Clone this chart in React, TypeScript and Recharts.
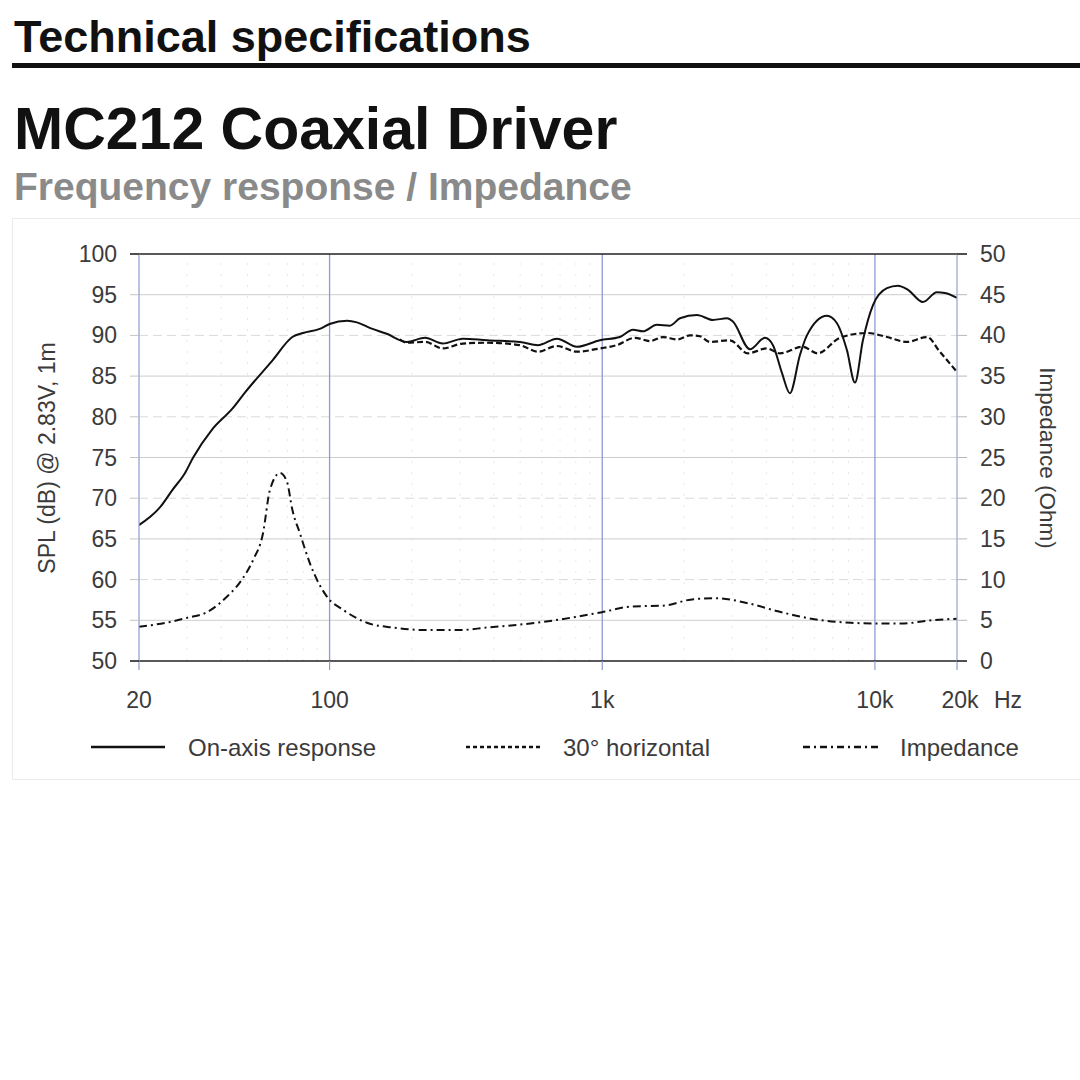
import React from 'react';
import { LineChart, Line, XAxis, YAxis, ReferenceLine } from 'recharts';

// On-axis response (Hz, dB SPL)
const onAxisFreq = [
  20, 23.9, 26.5, 29.5, 31.6, 37, 44, 49, 62, 73, 80, 92, 100, 116, 126, 141, 162, 192, 224, 260, 308,
  378, 499, 581, 682, 807, 980, 1160, 1296, 1410, 1586, 1770, 1928, 2224, 2547, 2866, 3014, 3480,
  3950, 4227, 4560, 4878, 5310, 5632, 6668, 7254, 7893, 8447, 9036, 9832, 11070, 12140, 13213,
  14997, 16878, 18054, 20000,
];
const onAxisSpl = [
  66.7, 68.9, 71.0, 73.1, 75.0, 78.4, 81.0, 83.0, 87.0, 89.8, 90.3, 90.8, 91.4, 91.8, 91.6, 90.9, 90.2,
  89.2, 89.7, 89.0, 89.6, 89.4, 89.2, 88.8, 89.6, 88.6, 89.4, 89.8, 90.7, 90.5, 91.3, 91.2, 92.1,
  92.5, 91.9, 92.1, 91.7, 88.3, 89.7, 88.8, 85.4, 82.9, 87.6, 90.0, 92.4, 91.5, 88.2, 84.2, 89.4,
  93.7, 95.8, 96.1, 95.6, 94.1, 95.3, 95.2, 94.6,
];

// 30° horizontal (Hz, dB SPL)
const horizFreq = [
  181, 192, 224, 260, 308, 378, 499, 581, 682, 807, 980, 1130, 1318, 1496, 1670, 1880, 2096, 2280,
  2483, 2938, 3420, 4017, 4483, 5432, 6166, 7442, 9355, 11070, 13100, 15510, 17300, 20000,
];
const horizSpl = [
  89.5, 89.1, 89.2, 88.4, 89.0, 89.1, 88.8, 88.0, 88.7, 88.0, 88.4, 88.8, 89.7, 89.3, 89.8, 89.5,
  90.0, 89.9, 89.2, 89.4, 87.8, 88.4, 87.8, 88.6, 87.8, 89.7, 90.3, 89.8, 89.2, 89.8, 88.0, 85.5,
];

// Impedance (Hz, Ohm)
const impFreq = [
  20, 26, 30, 35.5, 42, 47.7, 52.4, 57, 60.4, 65.8, 69.8, 73, 77.8, 84.7, 97.8, 112, 137, 171, 228,
  301, 374, 576, 794, 998, 1285, 1670, 2168, 2636, 3420, 4408, 6076, 8166, 10252, 12452, 16180, 20000,
];
const impOhm = [
  4.2, 4.8, 5.3, 6.0, 7.9, 10.0, 12.4, 15.7, 21.0, 23.1, 22.0, 18.6, 15.7, 12.0, 7.9, 6.3, 4.7, 4.1,
  3.8, 3.8, 4.1, 4.7, 5.4, 6.0, 6.7, 6.8, 7.6, 7.7, 7.1, 6.1, 5.1, 4.7, 4.6, 4.6, 5.0, 5.2,
];

const xTicks = [20, 100, 1000, 10000, 20000];
const xTickLabels = ['20', '100', '1k', '10k', '20k'];
const splTicks = [50, 55, 60, 65, 70, 75, 80, 85, 90, 95, 100];
const ohmTicks = [0, 5, 10, 15, 20, 25, 30, 35, 40, 45, 50];
const majorFreqs = [100, 1000, 10000];
const minorFreqs = [30, 40, 50, 60, 70, 80, 90, 200, 300, 400, 500, 600, 700, 800, 900, 2000, 3000, 4000, 5000, 6000, 7000, 8000, 9000];
const gridSpl = [55, 60, 65, 70, 75, 80, 85, 90, 95];

const toPoints = (fs: number[], vs: number[]) => fs.map((f, i) => ({ f, v: vs[i] }));
const onAxisData = toPoints(onAxisFreq, onAxisSpl);
const horizData = toPoints(horizFreq, horizSpl);
const impData = toPoints(impFreq, impOhm);

const FONT = '"Liberation Sans", Arial, Helvetica, sans-serif';
const TEXT = '#3b3b3b';
const BLUE = '#8e9ad3';
const DARK = '#222';

const LeftTick = (props: any) => {
  const { x, y, payload } = props;
  const edge = payload.value === 100 || payload.value === 50;
  return (
    <g>
      <line x1={x - 9} x2={x} y1={y} y2={y} stroke={edge ? DARK : '#c4c4c4'} strokeWidth={edge ? 1.6 : 1} />
      <text x={x - 22} y={y} textAnchor="end" dominantBaseline="central" fontSize={23} fill={TEXT} fontFamily={FONT}>
        {payload.value}
      </text>
    </g>
  );
};

const RightTick = (props: any) => {
  const { x, y, payload } = props;
  const edge = payload.value === 50 || payload.value === 0;
  return (
    <g>
      <line x1={x} x2={x + 10} y1={y} y2={y} stroke={edge ? DARK : '#b8b8b8'} strokeWidth={edge ? 1.6 : 1} />
      <text x={x + 23} y={y} textAnchor="start" dominantBaseline="central" fontSize={23} fill={TEXT} fontFamily={FONT}>
        {payload.value}
      </text>
    </g>
  );
};

const BottomTick = (props: any) => {
  const { x, y, payload } = props;
  const idx = xTicks.indexOf(payload.value);
  const last = payload.value === 20000;
  return (
    <g>
      <line x1={x} x2={x} y1={y} y2={y + 9} stroke={BLUE} strokeWidth={1.2} />
      <text x={last ? x + 3 : x} y={y + 39} textAnchor="middle" dominantBaseline="central" fontSize={23} fill={TEXT} fontFamily={FONT}>
        {xTickLabels[idx]}
      </text>
      {last && (
        <text x={x + 37} y={y + 39} textAnchor="start" dominantBaseline="central" fontSize={23} fill={TEXT} fontFamily={FONT}>
          Hz
        </text>
      )}
    </g>
  );
};

const Legend = () => (
  <svg width={1080} height={60} style={{ position: 'absolute', left: 0, top: 717 }}>
    <line x1={91} x2={165} y1={30} y2={30} stroke="#111" strokeWidth={2.5} />
    <text x={188} y={30} dominantBaseline="central" fontSize={24} fill={TEXT} fontFamily={FONT}>On-axis response</text>
    <line x1={466} x2={540} y1={30} y2={30} stroke="#111" strokeWidth={2.5} strokeDasharray="4 3" />
    <text x={563} y={30} dominantBaseline="central" fontSize={24} fill={TEXT} fontFamily={FONT}>30° horizontal</text>
    <line x1={803} x2={880} y1={30} y2={30} stroke="#111" strokeWidth={2.5} strokeDasharray="7 4 2 4" />
    <text x={900} y={30} dominantBaseline="central" fontSize={24} fill={TEXT} fontFamily={FONT}>Impedance</text>
  </svg>
);

export default function App() {
  return (
    <div style={{ position: 'absolute', left: 0, top: 0, width: 1080, height: 1080, background: '#fff', overflow: 'hidden', fontFamily: FONT }}>
      <div style={{ position: 'absolute', left: 14, top: 14, fontSize: 45, lineHeight: 1, fontWeight: 700, color: '#111' }}>
        Technical specifications
      </div>
      <div style={{ position: 'absolute', left: 12, top: 63, width: 1068, height: 5, background: '#111' }} />
      <div style={{ position: 'absolute', left: 14, top: 100, fontSize: 59, lineHeight: 1, fontWeight: 700, color: '#111' }}>
        MC212 Coaxial Driver
      </div>
      <div style={{ position: 'absolute', left: 14, top: 167, fontSize: 39, lineHeight: 1, fontWeight: 700, color: '#8a8a8a' }}>
        Frequency response / Impedance
      </div>
      <div style={{ position: 'absolute', left: 12, top: 218, width: 1080, height: 562, border: '1px solid #ebebeb', boxSizing: 'border-box' }} />

      <div style={{ position: 'absolute', left: 0, top: 0 }}>
        <LineChart width={1080} height={800} margin={{ top: 254, right: 63, bottom: 99, left: 79 }}>
          <XAxis
            dataKey="f"
            type="number"
            scale="log"
            domain={[20, 20000]}
            allowDataOverflow
            ticks={xTicks}
            interval={0}
            height={40}
            tickSize={0}
            tickMargin={0}
            tickLine={false}
            tick={<BottomTick />}
            axisLine={{ stroke: DARK, strokeWidth: 1.6 }}
          />
          <YAxis
            yAxisId="left"
            orientation="left"
            domain={[50, 100]}
            ticks={splTicks}
            interval={0}
            width={60}
            tickSize={0}
            tickMargin={0}
            tickLine={false}
            tick={<LeftTick />}
            axisLine={{ stroke: BLUE, strokeWidth: 1.2 }}
          />
          <YAxis
            yAxisId="right"
            orientation="right"
            domain={[0, 50]}
            ticks={ohmTicks}
            interval={0}
            width={60}
            tickSize={0}
            tickMargin={0}
            tickLine={false}
            tick={<RightTick />}
            axisLine={{ stroke: '#9ca2c4', strokeWidth: 1.2 }}
          />
          {minorFreqs.map((f) => (
            <ReferenceLine key={`mn-${f}`} x={f} yAxisId="left" stroke="#e8e8e8" strokeDasharray="2 9" strokeWidth={1} />
          ))}
          {gridSpl.map((v) => (
            <ReferenceLine
              key={`h-${v}`}
              y={v}
              yAxisId="left"
              stroke={v % 10 === 5 ? '#cdcdcd' : '#dadada'}
              strokeDasharray={v % 10 === 5 ? undefined : '9 5'}
              strokeWidth={1}
            />
          ))}
          {majorFreqs.map((f) => (
            <ReferenceLine key={`mj-${f}`} x={f} yAxisId="left" stroke={BLUE} strokeWidth={1.3} />
          ))}
          <ReferenceLine y={100} yAxisId="left" stroke={DARK} strokeWidth={1.6} />
          <Line
            data={impData}
            dataKey="v"
            yAxisId="right"
            type="monotone"
            stroke="#111"
            strokeWidth={2}
            strokeDasharray="8 4 2 4"
            dot={false}
            activeDot={false}
            isAnimationActive={false}
          />
          <Line
            data={horizData}
            dataKey="v"
            yAxisId="left"
            type="monotone"
            stroke="#111"
            strokeWidth={2.2}
            strokeDasharray="6 3"
            dot={false}
            activeDot={false}
            isAnimationActive={false}
          />
          <Line
            data={onAxisData}
            dataKey="v"
            yAxisId="left"
            type="monotone"
            stroke="#111"
            strokeWidth={2}
            dot={false}
            activeDot={false}
            isAnimationActive={false}
          />
        </LineChart>
      </div>

      <div style={{ position: 'absolute', left: 47, top: 458, transform: 'translate(-50%, -50%) rotate(-90deg)', whiteSpace: 'nowrap', fontSize: 23, color: TEXT }}>
        SPL (dB) @ 2.83V, 1m
      </div>
      <div style={{ position: 'absolute', left: 1047, top: 458, transform: 'translate(-50%, -50%) rotate(90deg)', whiteSpace: 'nowrap', fontSize: 22.5, color: TEXT }}>
        Impedance (Ohm)
      </div>
      <Legend />
    </div>
  );
}
